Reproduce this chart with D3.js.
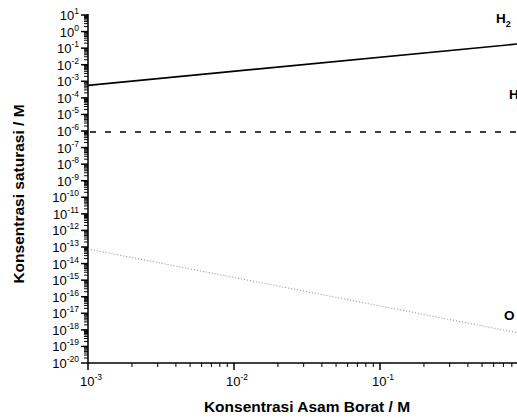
<!DOCTYPE html>
<html><head><meta charset="utf-8">
<script src="https://cdn.jsdelivr.net/npm/d3@7"></script>
<style>body{margin:0;background:#fff}svg{display:block}text{font-family:"Liberation Sans",Arial,sans-serif}</style>
</head><body>
<svg id="c" width="517" height="418"></svg>
<script>
// Data (log-log straight lines; endpoints)
const h2X = [1e-3, 1];
const h2Y = [5.7e-4, 0.2];
const hX = [1e-3, 1];
const hY = [8.7e-7, 8.7e-7];
const oX = [1e-3, 1];
const oY = [7.6e-14, 5.3e-19];
const yTickExps = d3.range(1, -21, -1);
const xTickExps = [-3, -2, -1];
const seriesLabels = [
  {t: "H", sub: "2", x: 1, y: 3.2, dx: -30},
  {t: "H", sub: "", x: 1, y: 8e-5, dx: -17},
  {t: "O", sub: "", x: 1, y: 4e-18, dx: -22}
];

const svg = d3.select("#c");
const m = {l: 88, r: 526, t: 15, b: 363};
const x = d3.scaleLog().domain([1e-3, 1]).range([m.l, m.r]);
const y = d3.scaleLog().domain([1e-20, 10]).range([m.b, m.t]);

svg.append("defs").append("clipPath").attr("id","cp")
  .append("rect").attr("x", m.l).attr("y", 0).attr("width", 600).attr("height", m.b);

// minor ticks
const yMinor = [];
for (let e = -20; e < 1; e++) for (let k = 2; k <= 9; k++) yMinor.push(k * Math.pow(10, e));
const xMinor = [];
for (let e = -3; e < 0; e++) for (let k = 2; k <= 9; k++) xMinor.push(k * Math.pow(10, e));

const g = svg.append("g");
g.selectAll(".ym").data(yMinor).join("line")
  .attr("x1", m.l - 4).attr("x2", m.l).attr("y1", d => y(d)).attr("y2", d => y(d))
  .attr("stroke", "#000").attr("stroke-width", 1);
g.selectAll(".yM").data(yTickExps).join("line")
  .attr("x1", m.l - 7).attr("x2", m.l).attr("y1", d => y(Math.pow(10, d))).attr("y2", d => y(Math.pow(10, d)))
  .attr("stroke", "#000").attr("stroke-width", 1.5);
g.selectAll(".xm").data(xMinor).join("line")
  .attr("x1", d => x(d)).attr("x2", d => x(d)).attr("y1", m.b).attr("y2", m.b + 4)
  .attr("stroke", "#000").attr("stroke-width", 1);
g.selectAll(".xM").data(xTickExps).join("line")
  .attr("x1", d => x(Math.pow(10, d))).attr("x2", d => x(Math.pow(10, d))).attr("y1", m.b).attr("y2", m.b + 7)
  .attr("stroke", "#000").attr("stroke-width", 1.5);

// axis lines
g.append("line").attr("x1", m.l).attr("x2", m.l).attr("y1", m.t - 1).attr("y2", m.b).attr("stroke", "#000").attr("stroke-width", 1.5);
g.append("line").attr("x1", m.l).attr("x2", 517).attr("y1", m.b).attr("y2", m.b).attr("stroke", "#000").attr("stroke-width", 1.5);

// tick labels
yTickExps.forEach(e => {
  const t = g.append("text").attr("x", m.l - 9).attr("y", y(Math.pow(10, e)) + 5)
    .attr("text-anchor", "end").attr("font-size", 13);
  t.append("tspan").text("10");
  t.append("tspan").attr("dy", -6).attr("font-size", 8.5).text(e);
});
xTickExps.forEach(e => {
  const t = g.append("text").attr("x", x(Math.pow(10, e)) + 3).attr("y", m.b + 23)
    .attr("text-anchor", "middle").attr("font-size", 13);
  t.append("tspan").text("10");
  t.append("tspan").attr("dy", -6).attr("font-size", 8.5).text(e);
});

// titles
svg.append("text").attr("x", (m.l + m.r) / 2).attr("y", 412).attr("text-anchor", "middle")
  .attr("font-size", 15.5).attr("font-weight", "bold").text("Konsentrasi Asam Borat / M");
svg.append("text").attr("transform", `translate(24,${(m.t + m.b) / 2 + 5}) rotate(-90)`).attr("text-anchor", "middle")
  .attr("font-size", 15.5).attr("font-weight", "bold").text("Konsentrasi saturasi / M");

// lines
const line = d3.line().x(d => x(d[0])).y(d => y(d[1]));
const plot = svg.append("g").attr("clip-path", "url(#cp)");
plot.append("path").datum(d3.zip(h2X, h2Y)).attr("d", line).attr("fill", "none").attr("stroke", "#000").attr("stroke-width", 1.6);
plot.append("path").datum(d3.zip(hX, hY)).attr("d", line).attr("fill", "none").attr("stroke", "#000").attr("stroke-width", 1.6).attr("stroke-dasharray", "6,9").attr("stroke-dashoffset", -2);
plot.append("path").datum(d3.zip(oX, oY)).attr("d", line).attr("fill", "none").attr("stroke", "#888").attr("stroke-width", 1).attr("stroke-dasharray", "1,2");

// series labels
seriesLabels.forEach(s => {
  const t = plot.append("text").attr("x", x(s.x) + s.dx).attr("y", y(s.y)).attr("font-size", 13.5).attr("font-weight", "bold");
  t.append("tspan").text(s.t);
  if (s.sub) t.append("tspan").attr("dy", 4).attr("font-size", 9).text(s.sub);
});
</script>
</body></html>
